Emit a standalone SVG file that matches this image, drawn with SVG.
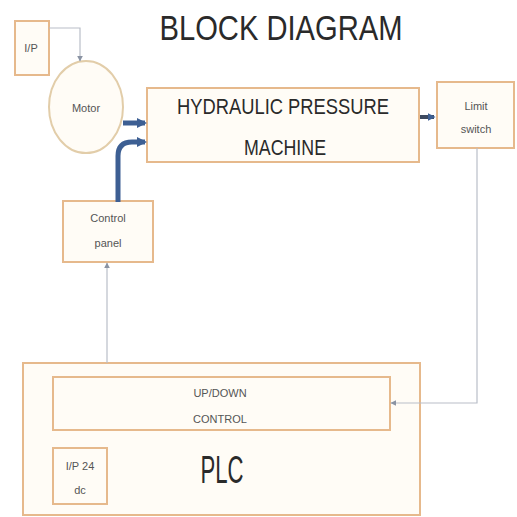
<svg xmlns="http://www.w3.org/2000/svg" width="517" height="517" viewBox="0 0 517 517">
<defs>
<style>
.box{fill:#fffcf6;stroke:#e6b98c;stroke-width:2}
.thin{fill:none;stroke:#b9bec8;stroke-width:1.2}
.blue{fill:none;stroke:#3d5f93;stroke-width:5}
.t{font-family:"Liberation Sans",Arial,sans-serif;fill:#2a2a2a;text-anchor:middle}
.s{font-family:"Liberation Sans",Arial,sans-serif;fill:#555;text-anchor:middle;font-size:11px}
</style>
<marker id="ah" viewBox="0 0 10 10" refX="9" refY="5" markerWidth="5" markerHeight="5" orient="auto"><path d="M0,0 L10,5 L0,10 z" fill="#8a93a3"/></marker>
<marker id="bh" viewBox="0 0 10 10" refX="8" refY="5" markerWidth="2" markerHeight="2" orient="auto"><path d="M0,0 L10,5 L0,10 z" fill="#3d5f93"/></marker>
</defs>
<rect width="517" height="517" fill="#ffffff"/>
<text class="t" x="281" y="40" font-size="35" textLength="243" lengthAdjust="spacingAndGlyphs">BLOCK  DIAGRAM</text>
<g id="ip"><rect class="box" x="15" y="21" width="34" height="54"/><text class="s" x="31" y="52" font-size="10">I/P</text></g>
<g id="motor"><ellipse cx="86" cy="107" rx="37" ry="46" fill="#fffcf6" stroke="#e2cda9" stroke-width="2"/><text class="s" x="86" y="112">Motor</text></g>
<g id="hydraulic"><rect class="box" x="147" y="88" width="272" height="74"/>
<text class="t" x="283" y="114" font-size="22" textLength="212" lengthAdjust="spacingAndGlyphs">HYDRAULIC PRESSURE</text>
<text class="t" x="285" y="155" font-size="22" textLength="82" lengthAdjust="spacingAndGlyphs">MACHINE</text></g>
<g id="limit"><rect class="box" x="437" y="82" width="77" height="66"/><text class="s" x="476" y="110">Limit</text><text class="s" x="476" y="133">switch</text></g>
<g id="control-panel"><rect class="box" x="63" y="201" width="90" height="61"/><text class="s" x="108" y="222" font-size="12">Control</text><text class="s" x="108" y="247" font-size="12">panel</text></g>
<g id="plc"><rect class="box" x="23" y="363" width="397" height="152"/>
<text class="t" x="222" y="483" font-size="38" textLength="43" lengthAdjust="spacingAndGlyphs">PLC</text></g>
<g id="updown"><rect class="box" x="53" y="377" width="337" height="53"/><text class="s" x="220" y="397" font-size="12">UP/DOWN</text><text class="s" x="220" y="423" font-size="12">CONTROL</text></g>
<g id="ip24"><rect class="box" x="53" y="448" width="54" height="56"/><text class="s" x="80" y="470" font-size="12">I/P  24</text><text class="s" x="80" y="494" font-size="12">dc</text></g>
<g id="connectors">
<path class="thin" d="M49,28 H80 V61" marker-end="url(#ah)"/>
<path class="blue" d="M123,123 H145" marker-end="url(#bh)"/>
<path class="blue" d="M118,202 V156 Q118,142 132,142 H145" marker-end="url(#bh)"/>
<path d="M420,117 H434" fill="none" stroke="#3d4a60" stroke-width="4" marker-end="url(#bh)"/>
<path class="thin" d="M107,363 V263" marker-end="url(#ah)"/>
<path class="thin" d="M477,148 V403 H391" marker-end="url(#ah)"/>
</g>
</svg>
